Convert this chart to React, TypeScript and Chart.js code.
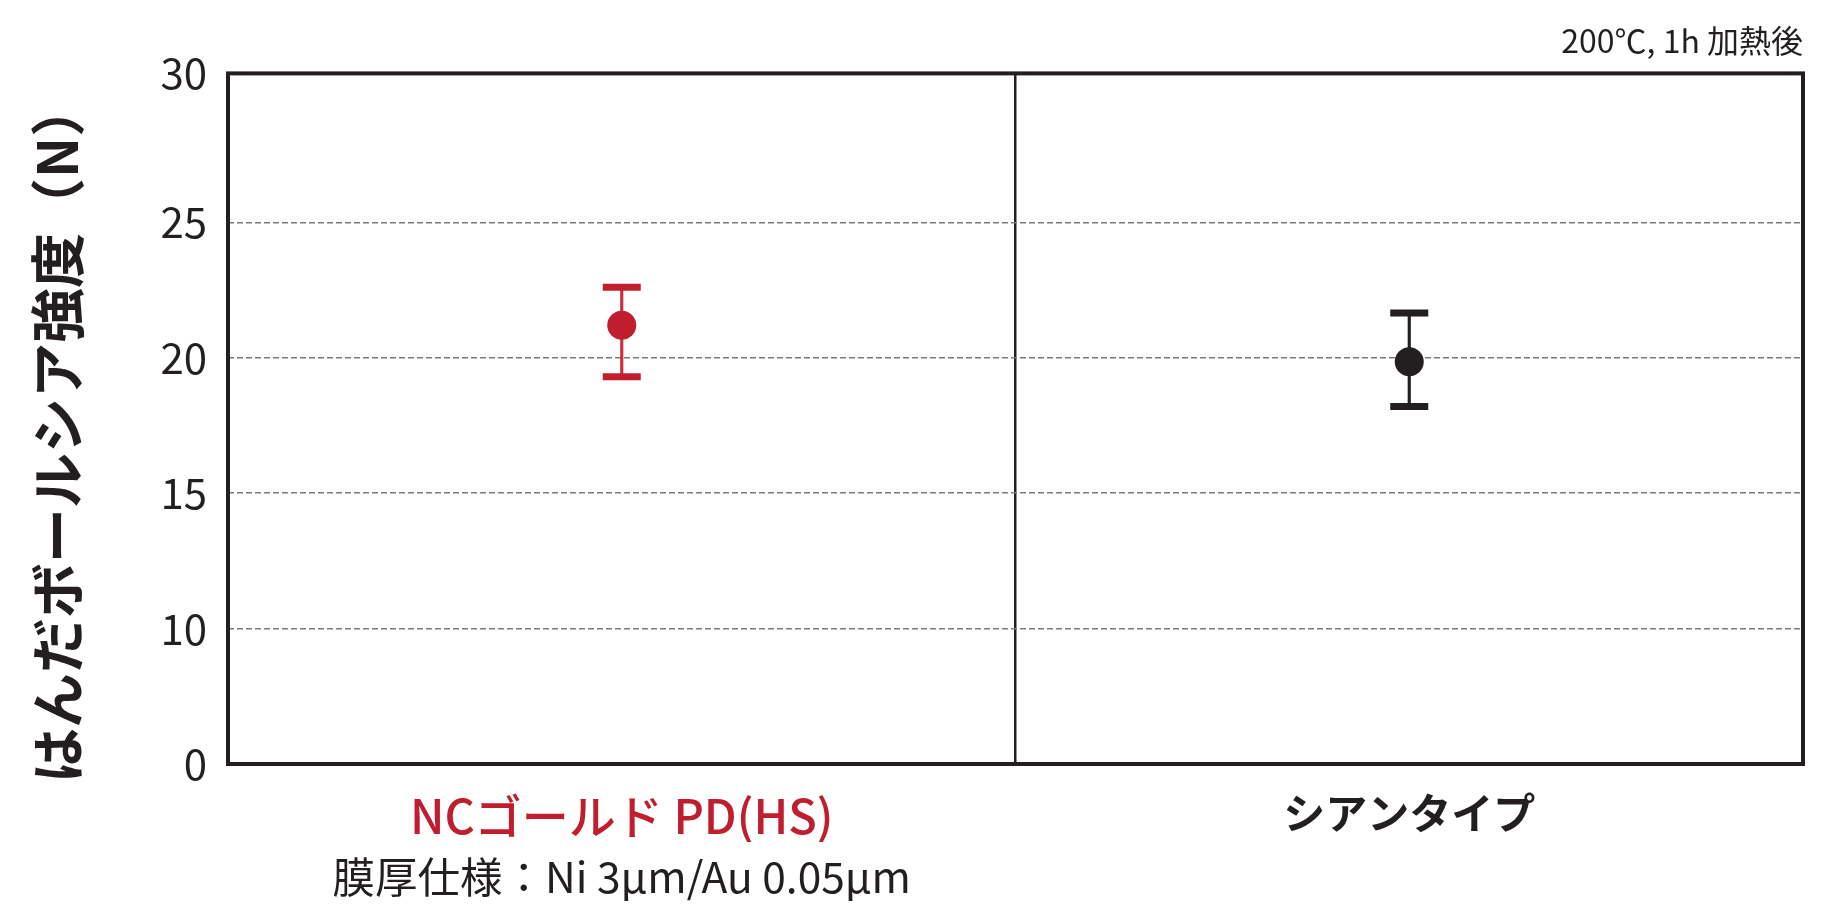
import React, { useEffect, useRef } from "react";
import { Chart, registerables } from "chart.js";

Chart.register(...registerables);

const categories = ["NCゴールド PD(HS)", "シアンタイプ"];
const subLabels = ["膜厚仕様：Ni 3μm/Au 0.05μm", ""];
const meanValues = [21.2, 19.85];
const upperValues = [22.6, 21.65];
const lowerValues = [19.3, 18.2];
const yTickValues = [5, 10, 15, 20, 25, 30.5];
const yTickLabels = ["0", "10", "15", "20", "25", "30"];
const yTitle = "はんだボールシア強度（N）\u2002";
const noteText = "200℃, 1h 加熱後";

const RED = "#C01E2E";
const BLACK = "#231F20";
const seriesColors = [RED, BLACK];
const whiskerColors = ["#C8303E", BLACK];
const FONT = "'Noto Sans CJK JP', 'Noto Sans', sans-serif";

const framePlugin = {
  id: "frame",
  beforeDatasetsDraw(chart: any) {
    const { ctx, chartArea: a } = chart;
    ctx.save();
    ctx.strokeStyle = BLACK;
    ctx.lineWidth = 4;
    ctx.strokeRect(a.left, a.top, a.right - a.left, a.bottom - a.top);
    ctx.restore();
  },
};

export default function App() {
  const ref = useRef<HTMLCanvasElement>(null);
  useEffect(() => {
    const chart = new Chart(ref.current as HTMLCanvasElement, {
      type: "bar",
      data: {
        labels: categories,
        datasets: [
          {
            type: "line",
            label: "mean",
            data: meanValues,
            showLine: false,
            pointStyle: "circle",
            pointRadius: 14.5,
            pointBorderWidth: 0,
            pointBackgroundColor: seriesColors,
            pointBorderColor: seriesColors,
            order: 0,
          } as any,
          {
            type: "line",
            label: "upper",
            data: upperValues,
            showLine: false,
            pointStyle: "line",
            pointRadius: 19,
            pointBorderWidth: 7,
            pointBackgroundColor: seriesColors,
            pointBorderColor: seriesColors,
            order: 1,
          } as any,
          {
            type: "line",
            label: "lower",
            data: lowerValues,
            showLine: false,
            pointStyle: "line",
            pointRadius: 19,
            pointBorderWidth: 7,
            pointBackgroundColor: seriesColors,
            pointBorderColor: seriesColors,
            order: 1,
          } as any,
          {
            type: "bar",
            label: "range",
            data: categories.map((_, i) => [lowerValues[i], upperValues[i]]),
            backgroundColor: whiskerColors,
            borderWidth: 0,
            barThickness: 2.5,
            order: 2,
          } as any,
        ],
      },
      options: {
        responsive: false,
        animation: false,
        events: [],
        layout: { padding: { left: 10, right: 32, top: 0, bottom: 0 } },
        plugins: {
          legend: { display: false },
          tooltip: { enabled: false },
          title: {
            display: true,
            text: noteText,
            align: "end",
            color: BLACK,
            font: { size: 32, family: FONT, weight: "normal" },
            padding: { top: 14, bottom: 13 },
          },
        },
        scales: {
          x: {
            type: "category",
            offset: true,
            weight: 0,
            grid: { offset: true, color: BLACK, lineWidth: 2.5, drawTicks: false },
            border: { display: false },
            ticks: {
              autoSkip: false,
              maxRotation: 0,
              padding: 24,
              color: (c: any) => (c.index === 0 ? RED : BLACK),
              font: (c: any) =>
                c.index === 0
                  ? { size: 47, family: FONT, weight: "500" }
                  : { size: 42, family: FONT, weight: "bold" },
            },
            afterFit: (s: any) => {
              s.height = 78;
            },
          },
          x2: {
            type: "category",
            labels: subLabels,
            offset: true,
            position: "bottom",
            weight: 1,
            grid: { display: false, drawTicks: false },
            border: { display: false },
            ticks: {
              autoSkip: false,
              maxRotation: 0,
              padding: 9,
              color: BLACK,
              font: { size: 42.5, family: FONT, weight: "normal" },
            },
            afterFit: (s: any) => {
              s.height = 59;
            },
          },
          y: {
            type: "linear",
            min: 5,
            max: 30.5,
            afterBuildTicks: (s: any) => {
              s.ticks = yTickValues.map((v) => ({ value: v }));
            },
            ticks: {
              padding: 21,
              color: BLACK,
              font: { size: 42, family: FONT, weight: "normal" },
              callback: (_v: any, i: number) => yTickLabels[i],
            },
            grid: { color: "#7a7a7a", lineWidth: 1.5, drawTicks: false },
            border: { display: false, dash: [6, 3] },
            title: {
              display: true,
              text: yTitle,
              color: BLACK,
              font: { size: 55, family: FONT, weight: "bold" },
              padding: { top: 6, bottom: 0 },
            },
            afterFit: (s: any) => {
              s.width = 210;
            },
          },
        },
      } as any,
      plugins: [framePlugin],
    });
    return () => chart.destroy();
  }, []);
  return (
    <canvas
      ref={ref}
      width={1827}
      height={893}
      style={{ display: "block", width: 1827, height: 893 }}
    />
  );
}
